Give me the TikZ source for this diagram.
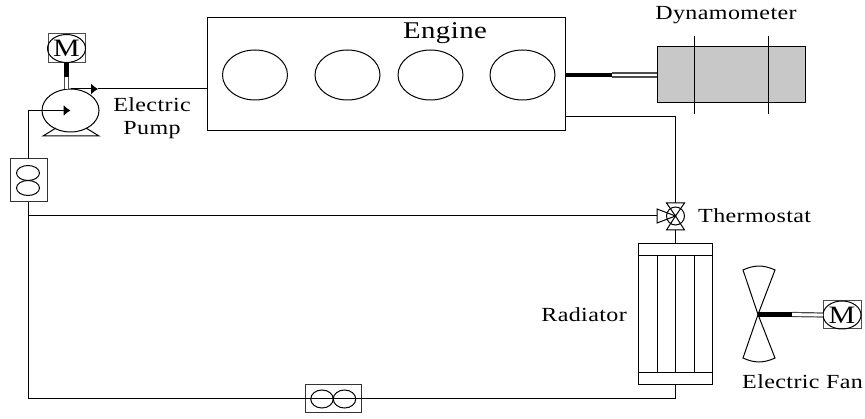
\documentclass[tikz,border=0pt]{standalone}
\usepackage{fontspec}
\setmainfont[FakeStretch=1.2,LetterSpace=2]{Liberation Serif}
\usepackage{xcolor}
\usetikzlibrary{arrows.meta,shapes.geometric}

\tikzset{
    pipe/.style={line width=1pt},
    flow/.style={pipe, -{Latex[length=7pt,width=11pt]}},
    box/.style={draw, line width=1pt, inner sep=0pt, outer sep=0pt},
    oval/.style={box, ellipse},
    word/.style={font=\fontsize{20}{22}\selectfont, inner sep=0pt, align=center},
    hub/.style={line width=4.6pt, black},
    rod/.style={line width=1.2pt, black!70, double=white, double distance=2.8pt},
    valvetip/.style={draw, line width=1pt}
}

\begin{document}
\begin{tikzpicture}[x=1pt,y=-1pt]
    \definecolor{dynogray}{RGB}{200,200,200}

    % Motor symbol: name, x, y, width, height
    \newcommand{\motorbox}[5]{
        \node[box, draw=black!70, minimum width=#4pt, minimum height=#5pt] (#1) at (#2,#3) {};
        \node[oval, minimum width=38pt, minimum height=28pt,
              font=\fontsize{25}{25}\selectfont] (#1m) at (#2,#3) {M};
    }

    \useasboundingbox (0,0) rectangle (865,419);

    % Engine
    \node[box, minimum width=358pt, minimum height=113pt] (engine) at (386,74.5) {};
    \node[word, font=\fontsize{24}{26}\selectfont] (enginetext) at (445,33) {Engine};
    \foreach \n/\x in {a/255,b/347.5,c/430.5,d/522.5} {
        \node[oval, minimum width=65pt, minimum height=50pt] (cyl\n) at (\x,75) {};
    }

    % Dynamometer
    \node[box, fill=dynogray, minimum width=148pt, minimum height=56pt] (dyno) at (731,75) {};
    \node[word] (dynotext) at (726,15) {Dynamometer};
    \foreach \n/\x in {a/694,b/768} {
        \coordinate (band\n top) at (\x,36);
        \coordinate (band\n bot) at (\x,114);
        \draw[pipe] (band\n top) -- (band\n bot);
    }
    \coordinate (enginedrive) at (engine.east |- dyno.west);
    \coordinate (dynoshaft) at (612,75);
    \draw[rod] (dynoshaft) -- (dyno.west);
    \draw[hub] (enginedrive) -- (dynoshaft);

    % Pump
    \node[oval, minimum width=57pt, minimum height=43pt] (pump) at (70.5,110.5) {};
    \coordinate (footl) at (43,136);
    \coordinate (footr) at (99,136);
    \coordinate (legl) at (56,128);
    \coordinate (legr) at (86,128);
    \draw[pipe] (legl) -- (footl) -- (footr) -- (legr);
    \node[word] (pumptext) at (152,118) {Electric\\[1pt]Pump};
    \motorbox{pumpmotor}{66.5}{48.5}{37}{29}
    \coordinate (pumpdrive) at (66.5,77);
    \draw[rod] (pumpdrive) -- (pump.north -| pumpdrive);
    \draw[hub, line width=5.6pt] (pumpmotor.south -| pumpdrive) -- (pumpdrive);

    % Filter on the return line
    \node[box, draw=black!80, minimum width=37pt, minimum height=43pt] (filter) at (28.5,180.5) {};
    \node[oval, minimum width=23pt, minimum height=15pt] (filtera) at (28,173) {};
    \node[oval, minimum width=23pt, minimum height=15pt] (filterb) at (28,188) {};

    % Lower filter
    \node[box, draw=black!80, minimum width=56pt, minimum height=28pt] (cooler) at (333,399) {};
    \node[oval, minimum width=22.5pt, minimum height=18pt] (coolera) at (322,399) {};
    \node[oval, minimum width=22.5pt, minimum height=18pt] (coolerb) at (344.5,399) {};

    % Thermostat
    \coordinate (valve) at (675.5,216);
    \draw[valvetip] (valve) -- (666.5,203) -- (684.5,203) -- cycle;
    \draw[valvetip] (valve) -- (666.5,230) -- (684.5,230) -- cycle;
    \draw[valvetip] (valve) -- (657,209) -- (657,223) -- cycle;
    \draw[pipe] (valve) circle (9);
    \coordinate (valvetop) at (675.5,203);
    \coordinate (valvebot) at (675.5,230);
    \coordinate (valveleft) at (657,216);
    \node[word, anchor=west] (valvetext) at (698,216) {Thermostat};

    % Radiator
    \node[box, minimum width=74pt, minimum height=141pt] (radiator) at (675.5,314.5) {};
    \draw[pipe] (radiator.west |- 0,256) -- (radiator.east |- 0,256);
    \draw[pipe] (radiator.west |- 0,373) -- (radiator.east |- 0,373);
    \foreach \x in {657,675.5,694} {
        \draw[pipe] (\x,256) -- (\x,373);
    }
    \node[word, anchor=east] (radiatortext) at (627,315) {Radiator};

    % Fan
    \coordinate (fanhub) at (758,314.5);
    \draw[pipe] (fanhub) -- (743,270) to[bend left=25] (775,270) -- cycle;
    \draw[pipe] (fanhub) -- (743,358) to[bend right=25] (775,358) -- cycle;
    \motorbox{fanmotor}{842}{315}{38}{28}
    \coordinate (fandrive) at (792,314.5);
    \draw[rod] (fandrive) -- (fanmotor.west);
    \draw[hub] (fanhub) -- (fandrive);
    \node[word, anchor=west] (fantext) at (742,382) {Electric Fan};

    % Coolant loop
    \coordinate (enginehot) at (engine.east |- 0,117);
    \coordinate (bendhot) at (valvetop |- enginehot);
    \draw[pipe] (enginehot) -- (bendhot) -- (valvetop);
    \draw[pipe] (valvebot) -- (radiator.north);
    \coordinate (bendlow) at (radiator.south |- cooler.east);
    \draw[pipe] (radiator.south) -- (bendlow) -- (cooler.east);
    \draw[pipe] (cooler.east) -- (cooler.west);
    \coordinate (cornerlow) at (filter.south |- cooler.west);
    \draw[pipe] (cooler.west) -- (cornerlow) -- (filter.south);
    \coordinate (teeback) at (filter.south |- valveleft);
    \draw[pipe] (teeback) -- (valveleft);
    \coordinate (cornerin) at (filter.north |- pump.center);
    \draw[flow] (filter.north) -- (cornerin) -- (pump.center);
    \coordinate (pumpout) at (pump.north);
    \coordinate (pumparrow) at (98,89);
    \draw[flow] (pumpout) -- (pumparrow);
    \draw[pipe] (pumparrow) -- (engine.west |- pump.north);
\end{tikzpicture}
\end{document}
